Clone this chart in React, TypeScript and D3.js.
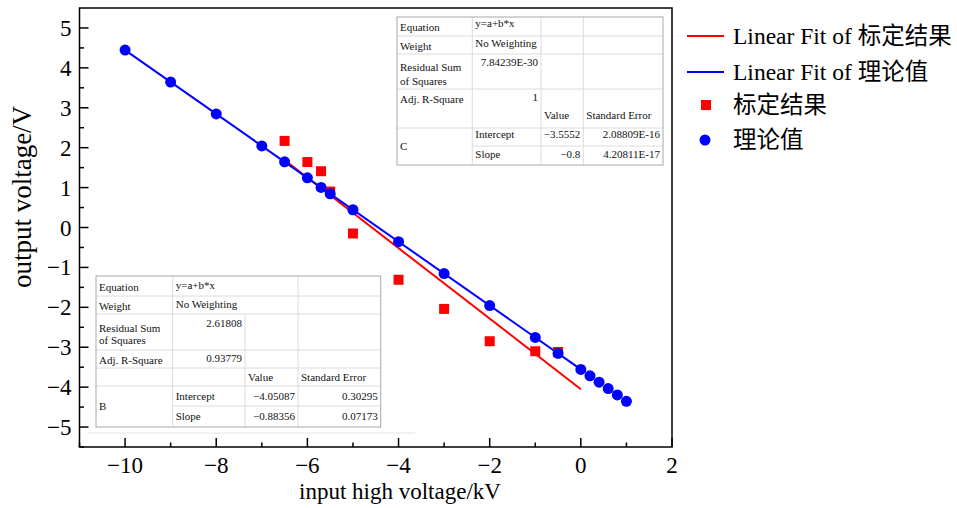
import React from 'react';
import * as d3 from 'd3';

// 理论值 (theory) points
const theoryX = [-10, -9, -8, -7, -6.5, -6, -5.7, -5.5, -5, -4, -3, -2, -1, -0.5, 0, 0.2, 0.4, 0.6, 0.8, 1];
const theoryY = [4.4448, 3.6448, 2.8448, 2.0448, 1.6448, 1.2448, 1.0048, 0.8448, 0.4448, -0.3552, -1.1552, -1.9552, -2.7552, -3.1552, -3.5552, -3.7152, -3.8752, -4.0352, -4.1952, -4.3552];

// 标定结果 (calibration) points
const calibX = [-6.5, -6, -5.7, -5.5, -5, -4, -3, -2, -1, -0.5];
const calibY = [2.17, 1.64, 1.41, 0.9, -0.15, -1.31, -2.04, -2.85, -3.1, -3.12];

// linear fits: [intercept, slope], x range
const fitCalib = [-4.05087, -0.88356];
const fitCalibRange = [-6.5, 0];
const fitTheory = [-3.5552, -0.8];
const fitTheoryRange = [-10, 0];

const xMajor = [-10, -8, -6, -4, -2, 0, 2];
const xMinor = [-11, -9, -7, -5, -3, -1, 1];
const yMajor = [-5, -4, -3, -2, -1, 0, 1, 2, 3, 4, 5];
const yMinor = [-5.5, -4.5, -3.5, -2.5, -1.5, -0.5, 0.5, 1.5, 2.5, 3.5, 4.5];

const legendLabels = ['Linear Fit of 标定结果', 'Linear Fit of 理论值', '标定结果', '理论值'];

// result tables
const tableBText = {
  equation: 'y=a+b*x', weight: 'No Weighting', rss: '2.61808', adjR: '0.93779',
  name: 'B', intercept: '−4.05087', interceptErr: '0.30295', slope: '−0.88356', slopeErr: '0.07173',
};
const tableCText = {
  equation: 'y=a+b*x', weight: 'No Weighting', rss: '7.84239E-30', adjR: '1',
  name: 'C', intercept: '−3.5552', interceptErr: '2.08809E-16', slope: '−0.8', slopeErr: '4.20811E-17',
};

const fmt = (v: number) => (v < 0 ? '−' + Math.abs(v) : String(v));
const serif = '"Liberation Serif", "Times New Roman", "Noto Sans CJK SC", serif';

const left = 79.5, right = 672, top = 8, bottom = 447;

function Txt({ x, y, t, anchor = 'start' }: any) {
  return <text x={x} y={y} fontSize={11} fontFamily={serif} textAnchor={anchor} fill="#111">{t}</text>;
}

function TableB({ d }: any) {
  const cx = [96, 172.7, 245, 298, 380.7];
  const ry = [276, 296, 314, 350, 368, 386, 406, 427];
  const inner = '#dcdcdc';
  return (
    <g>
      <line x1={88} x2={415} y1={433} y2={433} stroke="#e6e6e6" />
      {ry.slice(1, -1).map((y, i) => (
        <line key={i} x1={y === 406 ? cx[1] : cx[0]} x2={cx[4]} y1={y} y2={y} stroke={inner} />
      ))}
      <line x1={cx[1]} x2={cx[1]} y1={ry[0]} y2={ry[7]} stroke={inner} />
      <line x1={cx[2]} x2={cx[2]} y1={ry[2]} y2={ry[7]} stroke={inner} />
      <line x1={cx[3]} x2={cx[3]} y1={ry[0]} y2={ry[7]} stroke={inner} />
      <rect x={cx[0]} y={ry[0]} width={cx[4] - cx[0]} height={ry[7] - ry[0]} fill="none" stroke="#a8a8a8" />
      <Txt x={cx[0] + 3} y={ry[0] + 14.5} t="Equation" />
      <Txt x={cx[1] + 3} y={ry[0] + 13} t={d.equation} />
      <Txt x={cx[0] + 3} y={ry[1] + 14} t="Weight" />
      <Txt x={cx[1] + 3} y={ry[1] + 12} t={d.weight} />
      <Txt x={cx[0] + 3} y={ry[2] + 18} t="Residual Sum" />
      <Txt x={cx[0] + 3} y={ry[2] + 30} t="of Squares" />
      <Txt x={cx[2] - 3} y={ry[2] + 13} t={d.rss} anchor="end" />
      <Txt x={cx[0] + 3} y={ry[3] + 14} t="Adj. R-Square" />
      <Txt x={cx[2] - 3} y={ry[3] + 12} t={d.adjR} anchor="end" />
      <Txt x={cx[2] + 3} y={ry[4] + 13} t="Value" />
      <Txt x={cx[3] + 3} y={ry[4] + 13} t="Standard Error" />
      <Txt x={cx[0] + 3} y={ry[5] + 24} t={d.name} />
      <Txt x={cx[1] + 3} y={ry[5] + 14} t="Intercept" />
      <Txt x={cx[3] - 3} y={ry[5] + 14} t={d.intercept} anchor="end" />
      <Txt x={cx[4] - 3} y={ry[5] + 14} t={d.interceptErr} anchor="end" />
      <Txt x={cx[1] + 3} y={ry[6] + 14} t="Slope" />
      <Txt x={cx[3] - 3} y={ry[6] + 14} t={d.slope} anchor="end" />
      <Txt x={cx[4] - 3} y={ry[6] + 14} t={d.slopeErr} anchor="end" />
    </g>
  );
}

function TableC({ d }: any) {
  const cx = [397, 472.3, 541, 583.3, 663];
  const ry = [17, 36, 54, 89, 128, 146, 165];
  const inner = '#dcdcdc';
  return (
    <g>
      <rect x={cx[0]} y={ry[0]} width={cx[4] - cx[0]} height={ry[6] - ry[0]} fill="white" />
      {ry.slice(1, -1).map((y, i) => (
        <line key={i} x1={y === 146 ? cx[1] : cx[0]} x2={cx[4]} y1={y} y2={y} stroke={inner} />
      ))}
      {cx.slice(1, -1).map((x, i) => (
        <line key={i} x1={x} x2={x} y1={ry[0]} y2={ry[6]} stroke={inner} />
      ))}
      <rect x={cx[0]} y={ry[0]} width={cx[4] - cx[0]} height={ry[6] - ry[0]} fill="none" stroke="#a8a8a8" />
      <Txt x={cx[0] + 3} y={ry[0] + 14} t="Equation" />
      <Txt x={cx[1] + 3} y={ry[0] + 10} t={d.equation} />
      <Txt x={cx[0] + 3} y={ry[1] + 14} t="Weight" />
      <Txt x={cx[1] + 3} y={ry[1] + 11} t={d.weight} />
      <Txt x={cx[0] + 3} y={ry[2] + 17} t="Residual Sum" />
      <Txt x={cx[0] + 3} y={ry[2] + 31} t="of Squares" />
      <Txt x={cx[2] - 3} y={ry[2] + 12} t={d.rss} anchor="end" />
      <Txt x={cx[0] + 3} y={ry[3] + 14} t="Adj. R-Square" />
      <Txt x={cx[2] - 3} y={ry[3] + 12} t={d.adjR} anchor="end" />
      <Txt x={cx[2] + 3} y={ry[4] - 9} t="Value" />
      <Txt x={cx[3] + 3} y={ry[4] - 9} t="Standard Error" />
      <Txt x={cx[0] + 3} y={ry[4] + 22} t={d.name} />
      <Txt x={cx[1] + 3} y={ry[4] + 10} t="Intercept" />
      <Txt x={cx[3] - 3} y={ry[4] + 10} t={d.intercept} anchor="end" />
      <Txt x={cx[4] - 3} y={ry[4] + 10} t={d.interceptErr} anchor="end" />
      <Txt x={cx[1] + 3} y={ry[5] + 12} t="Slope" />
      <Txt x={cx[3] - 3} y={ry[5] + 12} t={d.slope} anchor="end" />
      <Txt x={cx[4] - 3} y={ry[5] + 12} t={d.slopeErr} anchor="end" />
    </g>
  );
}

export default function App() {
  const x = d3.scaleLinear().domain([-11, 2]).range([left, right]);
  const y = d3.scaleLinear().domain([-5.5, 5.5]).range([bottom, top]);
  const fitLine = (c: number[], r: number[]) =>
    d3.line<number>().x((v) => x(v)).y((v) => y(c[0] + c[1] * v))(r) as string;

  const legendX = 687, legendTx = 733;
  const legendY = [36, 72, 105, 140];

  return (
    <svg width={957} height={508} style={{ position: 'absolute', left: 0, top: 0, background: 'white' }}>
      <TableB d={tableBText} />
      <TableC d={tableCText} />

      <path d={fitLine(fitCalib, fitCalibRange)} stroke="#ff0000" strokeWidth={2} fill="none" />
      <path d={fitLine(fitTheory, fitTheoryRange)} stroke="#0000ff" strokeWidth={2} fill="none" />
      {calibX.map((v, i) => (
        <rect key={i} x={x(v) - 5} y={y(calibY[i]) - 5} width={10} height={10} fill="#ff0000" />
      ))}
      {theoryX.map((v, i) => (
        <circle key={i} cx={x(v)} cy={y(theoryY[i])} r={5.5} fill="#0000ff" />
      ))}

      {/* frame and ticks */}
      <rect x={left} y={top} width={right - left} height={bottom - top} fill="none" stroke="black" strokeWidth={1.5} />
      {xMajor.map((v) => (
        <g key={v}>
          <line x1={x(v)} x2={x(v)} y1={bottom} y2={bottom - 9} stroke="black" strokeWidth={1.5} />
          <text x={x(v)} y={473} fontSize={23} fontFamily={serif} textAnchor="middle">{fmt(v)}</text>
        </g>
      ))}
      {xMinor.map((v) => (
        <line key={v} x1={x(v)} x2={x(v)} y1={bottom} y2={bottom - 4.5} stroke="black" strokeWidth={1.5} />
      ))}
      {yMajor.map((v) => (
        <g key={v}>
          <line x1={left} x2={left + 9} y1={y(v)} y2={y(v)} stroke="black" strokeWidth={1.5} />
          <text x={left - 8} y={y(v) + 8} fontSize={23} fontFamily={serif} textAnchor="end">{fmt(v)}</text>
        </g>
      ))}
      {yMinor.map((v) => (
        <line key={v} x1={left} x2={left + 4.5} y1={y(v)} y2={y(v)} stroke="black" strokeWidth={1.5} />
      ))}

      <text x={400} y={499} fontSize={23} fontFamily={serif} textAnchor="middle">input high voltage/kV</text>
      <text transform="translate(31,197) rotate(-90)" fontSize={27} fontFamily={serif} textAnchor="middle">output voltage/V</text>

      {/* legend */}
      <line x1={legendX} x2={724} y1={legendY[0]} y2={legendY[0]} stroke="#ff0000" strokeWidth={2} />
      <line x1={legendX} x2={724} y1={legendY[1]} y2={legendY[1]} stroke="#0000ff" strokeWidth={2} />
      <rect x={701} y={legendY[2] - 5} width={10} height={10} fill="#ff0000" />
      <circle cx={705} cy={legendY[3]} r={5.5} fill="#0000ff" />
      {legendLabels.map((t, i) => (
        <text key={i} x={legendTx} y={legendY[i] + 8} fontSize={23.5} fontFamily={serif}>{t}</text>
      ))}
    </svg>
  );
}
